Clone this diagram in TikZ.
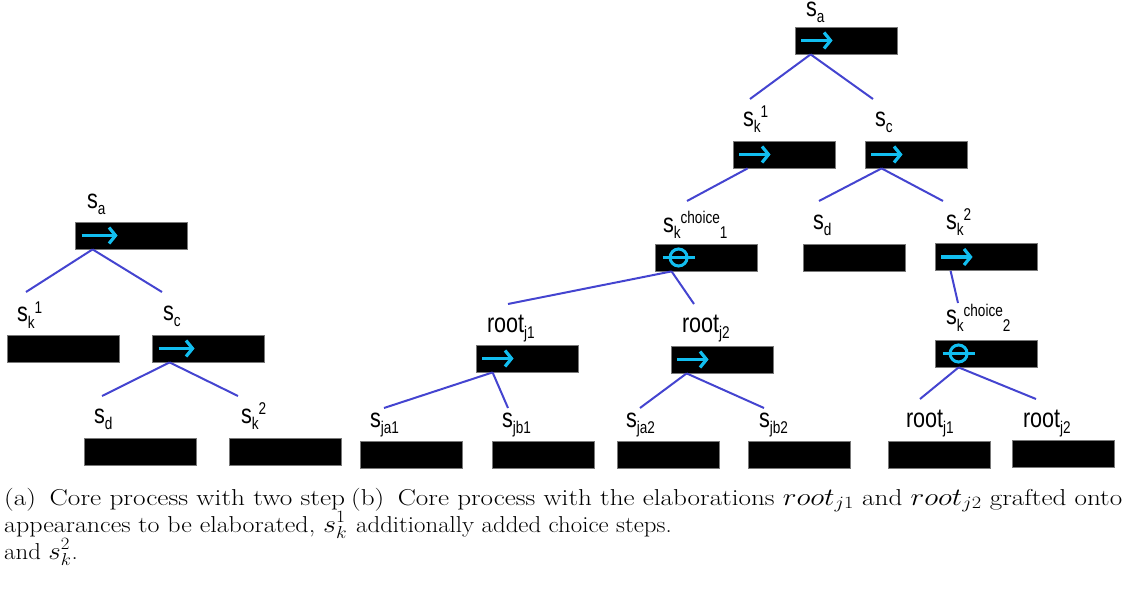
\documentclass[tikz,border=0pt]{standalone}
\usepackage{fontspec}
\usepackage{graphicx}
\usetikzlibrary{arrows.meta,calc}
\newfontfamily\labfont{Liberation Sans}

\definecolor{edgeblue}{RGB}{68,68,208}
\definecolor{markcyan}{RGB}{18,190,240}
\definecolor{boxrim}{RGB}{120,120,120}

% step labels: condensed sans with lowered / raised index parts
\newcommand\steplab[1]{\scalebox{0.8}[1]{\labfont\fontsize{27}{27}\selectfont #1}}
\newcommand\lsub[1]{\raisebox{-6pt}{\fontsize{17}{17}\selectfont #1}}
\newcommand\lsup[1]{\raisebox{9pt}{\fontsize{17}{17}\selectfont #1}}
% caption lines, stretched to a given width
\newcommand\capline[2]{\resizebox{#1}{\height}{\fontsize{23}{27}\selectfont #2}}

\tikzset{
  stepbox/.style={draw=boxrim, line width=0.8pt, fill=black, inner sep=0pt,
    minimum height=27pt, anchor=center},
  wideL/.style={stepbox, minimum width=112pt},
  wideR/.style={stepbox, minimum width=102pt},
  lab/.style={anchor=base west, inner sep=0pt, outer sep=0pt},
  treeedge/.style={draw=edgeblue, line width=2pt},
  seqmark/.style={draw=markcyan, line width=3.2pt,
    -{Straight Barb[length=6.5pt,width=16pt,line width=3.2pt]}},
  choicemark/.style={draw=markcyan, line width=3pt},
  captext/.style={anchor=base west, inner sep=0pt},
}

% a sequence arrow at the left of a box
\newcommand\seq[1]{\draw[seqmark] ($(#1.west)+(6.5pt,0)$) -- ($(#1.west)+(38pt,0)$);}
\newcommand\seqL[1]{\draw[seqmark] ($(#1.west)+(7pt,0)$) -- ($(#1.west)+(43pt,0)$);}
% a choice marker: circle crossed by a bar
\newcommand\choice[1]{%
  \draw[choicemark] ($(#1.west)+(24pt,0)$) circle[radius=8.5pt];
  \draw[choicemark] ($(#1.west)+(8pt,0)$) -- ($(#1.west)+(40pt,0)$);}

\begin{document}
\begin{tikzpicture}[x=1pt, y=-1pt]
\useasboundingbox (0,0) rectangle (1128,596);

%% ---------- (a) core process ----------
\node[wideL] (La)  at (131,235.5) {};
\node[wideL] (Lk1) at (63,348.5) {};
\node[wideL] (Lc)  at (208,348.5) {};
\node[wideL] (Ld)  at (140,452) {};
\node[wideL] (Lk2) at (285,452) {};

\seqL{La}
\seqL{Lc}

\node[lab] (tLa)  at (87,209)  {\steplab{s\lsub{a}}};
\node[lab] (tLk1) at (17,322)  {\steplab{s\lsub{k}\lsup{1}}};
\node[lab] (tLc)  at (163,320) {\steplab{s\lsub{c}}};
\node[lab] (tLd)  at (94,423)  {\steplab{s\lsub{d}}};
\node[lab] (tLk2) at (241,423) {\steplab{s\lsub{k}\lsup{2}}};

\coordinate (eLk1) at (26,292);
\coordinate (eLc)  at (162,292);
\coordinate (eLd)  at (102,396);
\coordinate (eLk2) at (238,396);

\draw[treeedge] ($(La.south west)+(18pt,0)$) -- (eLk1);
\draw[treeedge] ($(La.south west)+(18pt,0)$) -- (eLc);
\draw[treeedge] ($(Lc.south west)+(18pt,0)$) -- (eLd);
\draw[treeedge] ($(Lc.south west)+(18pt,0)$) -- (eLk2);

%% ---------- (b) elaborated process ----------
\node[wideR] (Ra)   at (846,40.5) {};
\node[wideR] (Rk1)  at (784,154.5) {};
\node[wideR] (Rc)   at (916,154.5) {};
\node[wideR] (Rch1) at (706,257.5) {};
\node[wideR] (Rd)   at (854,257.5) {};
\node[wideR] (Rk2)  at (986,257) {};
\node[wideR] (Rr1)  at (527,358.5) {};
\node[wideR] (Rr2)  at (722,359.5) {};
\node[wideR] (Rja1) at (411,454.5) {};
\node[wideR] (Rjb1) at (543,454.5) {};
\node[wideR] (Rja2) at (668,454.5) {};
\node[wideR] (Rjb2) at (799,454.5) {};
\node[wideR] (Rch2) at (986,353.5) {};
\node[wideR] (Rq1)  at (939,455) {};
\node[wideR] (Rq2)  at (1063,453.5) {};

\seq{Ra}
\seq{Rk1}
\seq{Rc}
\seq{Rk2}
\seq{Rr1}
\seq{Rr2}
\choice{Rch1}
\choice{Rch2}

\node[lab] (tRa)   at (806,17)  {\steplab{s\lsub{a}}};
\node[lab] (tRk1)  at (743,127) {\steplab{s\lsub{k}\lsup{1}}};
\node[lab] (tRc)   at (875,127) {\steplab{s\lsub{c}}};
\node[lab] (tRch1) at (663,233) {\steplab{s\lsub{k}\lsup{choice}\lsub{1}}};
\node[lab] (tRd)   at (813,230) {\steplab{s\lsub{d}}};
\node[lab] (tRk2)  at (946,230) {\steplab{s\lsub{k}\lsup{2}}};
\node[lab] (tRch2) at (946,325) {\steplab{s\lsub{k}\lsup{choice}\lsub{2}}};
\node[lab] (tRr1)  at (487,332) {\steplab{root\lsub{j1}}};
\node[lab] (tRr2)  at (682,332) {\steplab{root\lsub{j2}}};
\node[lab] (tRja1) at (370,427) {\steplab{s\lsub{ja1}}};
\node[lab] (tRjb1) at (502,427) {\steplab{s\lsub{jb1}}};
\node[lab] (tRja2) at (626,427) {\steplab{s\lsub{ja2}}};
\node[lab] (tRjb2) at (759,427) {\steplab{s\lsub{jb2}}};
\node[lab] (tRq1)  at (906,427) {\steplab{root\lsub{j1}}};
\node[lab] (tRq2)  at (1023,427) {\steplab{root\lsub{j2}}};

\coordinate (eRk1)  at (750,99);
\coordinate (eRc)   at (873,99);
\coordinate (eRch1) at (687,201);
\coordinate (eRd)   at (819,201);
\coordinate (eRk2)  at (943,201);
\coordinate (eRr1)  at (508,304);
\coordinate (eRr2)  at (694,304);
\coordinate (eRch2) at (958,303);
\coordinate (eRja1) at (384,408);
\coordinate (eRjb1) at (508,408);
\coordinate (eRja2) at (640,408);
\coordinate (eRjb2) at (764,408);
\coordinate (eRq1)  at (920,399);
\coordinate (eRq2)  at (1036,399);

\draw[treeedge] ($(Ra.south west)+(16pt,0)$) -- (eRk1);
\draw[treeedge] ($(Ra.south west)+(16pt,0)$) -- (eRc);
\draw[treeedge] ($(Rk1.south west)+(15pt,0)$) -- (eRch1);
\draw[treeedge] ($(Rc.south west)+(17pt,0)$) -- (eRd);
\draw[treeedge] ($(Rc.south west)+(17pt,0)$) -- (eRk2);
\draw[treeedge] ($(Rch1.south west)+(17pt,0)$) -- (eRr1);
\draw[treeedge] ($(Rch1.south west)+(17pt,0)$) -- (eRr2);
\draw[treeedge] ($(Rk2.south west)+(16pt,0)$) -- (eRch2);
\draw[treeedge] ($(Rr1.south west)+(17pt,0)$) -- (eRja1);
\draw[treeedge] ($(Rr1.south west)+(17pt,0)$) -- (eRjb1);
\draw[treeedge] ($(Rr2.south west)+(16pt,0)$) -- (eRja2);
\draw[treeedge] ($(Rr2.south west)+(16pt,0)$) -- (eRjb2);
\draw[treeedge] ($(Rch2.south west)+(24pt,0)$) -- (eRq1);
\draw[treeedge] ($(Rch2.south west)+(24pt,0)$) -- (eRq2);

%% ---------- captions ----------
\node[captext] (ca1) at (4,505) {\capline{341pt}{(a)\enskip Core process with two step}};
\node[captext] (ca2) at (4,532) {\capline{343pt}{appearances to be elaborated, $s_k^1$}};
\node[captext] (ca3) at (4,559) {\scalebox{1.08}[1]{\fontsize{23}{27}\selectfont and $s_k^2$.}};
\node[captext] (cb1) at (351,505) {\capline{771pt}{(b)\enskip Core process with the elaborations $root_{j1}$ and $root_{j2}$ grafted onto}};
\node[captext] (cb2) at (356,532) {\scalebox{1.08}[1]{\fontsize{23}{27}\selectfont additionally added choice steps.}};
\end{tikzpicture}
\end{document}
